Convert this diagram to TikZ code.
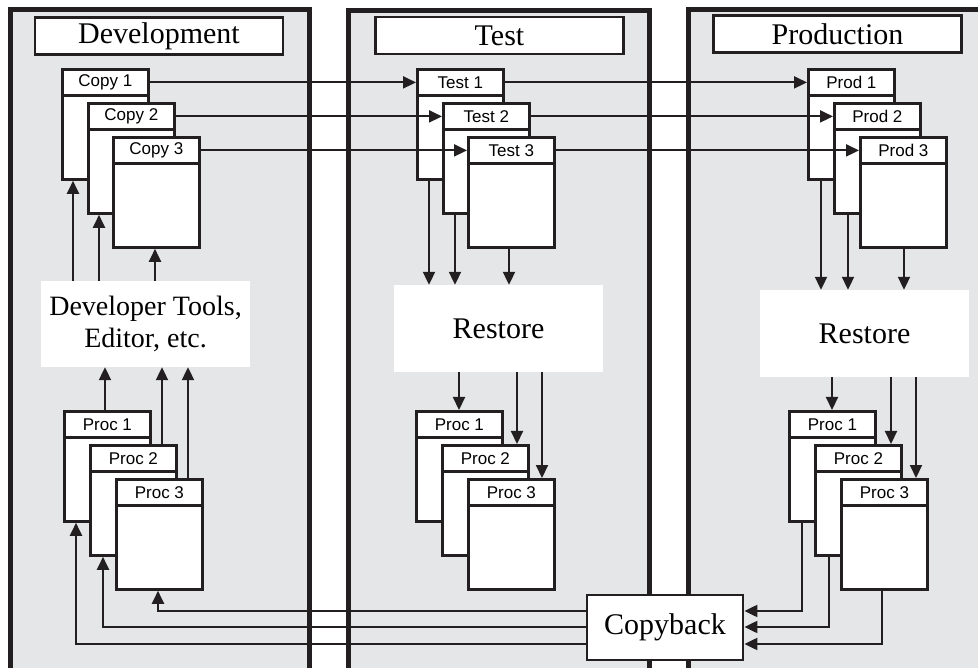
\documentclass[tikz,border=0pt]{standalone}
\usepackage{fontspec}
\setmainfont{Liberation Serif}
\newfontfamily\hvfont{Liberation Sans}
\usetikzlibrary{arrows.meta}
\definecolor{panelgray}{HTML}{E5E6E8}
\definecolor{ink}{HTML}{231F20}
\tikzset{
  panelline/.style={line width=5pt, draw=ink},
  titlebox/.style={draw=ink, line width=2.8pt, fill=white, minimum width=248pt, minimum height=37pt, inner sep=0pt, font=\fontsize{30}{32}\selectfont},
  bodybox/.style={draw=ink, line width=2.8pt, fill=white, minimum width=86pt, minimum height=110pt, inner sep=0pt, anchor=north west},
  headbox/.style={draw=ink, line width=2.8pt, fill=white, minimum width=86pt, minimum height=26pt, inner sep=0pt, anchor=north, font=\hvfont\fontsize{17}{19}\selectfont},
  plainbox/.style={fill=white, inner sep=0pt, align=center, font=\fontsize{30}{32}\selectfont},
  cbbox/.style={draw=ink, line width=2.8pt, fill=white, inner sep=0pt, font=\fontsize{30}{32}\selectfont},
  arr/.style={draw=ink, line width=2.1pt, -{Triangle[length=13pt,width=12pt]}},
}
\newcommand\mkstack[4]{\node[bodybox] (#1) at (#2,#3) {};\node[headbox] (#1h) at (#1.north) {#4};}
\begin{document}
\begin{tikzpicture}[x=1pt,y=-1pt]
\path[use as bounding box] (0,0) rectangle (978,668);
\clip (0,0) rectangle (978,668);
% panels
\fill[panelgray] (10.5,10) rectangle (309.5,675);
\draw[panelline] (10.5,680) -- (10.5,10) -- (309.5,10) -- (309.5,680);
\fill[panelgray] (348.5,11) rectangle (649.5,675);
\draw[panelline] (348.5,680) -- (348.5,11) -- (649.5,11) -- (649.5,680);
\fill[panelgray] (688.5,10) rectangle (990,675);
\draw[panelline] (688.5,680) -- (688.5,10) -- (995,10);
% titles
\node[titlebox] (tdev) at (159,36) {Development};
\node[titlebox] (ttest) at (499.5,35.5) {Test};
\node[titlebox] (tprod) at (837.5,34) {Production};
% copy stacks
\mkstack{c1}{61}{68}{Copy 1}
\mkstack{c2}{87}{102}{Copy 2}
\mkstack{c3}{112}{136}{Copy 3}
\mkstack{t1}{416}{68}{Test 1}
\mkstack{t2}{442}{102}{Test 2}
\mkstack{t3}{467}{136}{Test 3}
\mkstack{p1}{807}{68}{Prod 1}
\mkstack{p2}{833}{102}{Prod 2}
\mkstack{p3}{859}{136}{Prod 3}
% proc stacks
\mkstack{dp1}{63}{410}{Proc 1}
\mkstack{dp2}{89}{444}{Proc 2}
\mkstack{dp3}{115}{478}{Proc 3}
\mkstack{tp1}{415}{410}{Proc 1}
\mkstack{tp2}{441}{444}{Proc 2}
\mkstack{tp3}{467}{478}{Proc 3}
\mkstack{pp1}{788}{410}{Proc 1}
\mkstack{pp2}{814}{444}{Proc 2}
\mkstack{pp3}{840}{478}{Proc 3}
% white boxes
\node[plainbox, minimum width=209pt, minimum height=86pt, font=\fontsize{28}{32}\selectfont] (dt) at (145.5,324) {Developer Tools,\\Editor, etc.};
\node[plainbox, minimum width=209pt, minimum height=87pt] (tr) at (498.5,328.5) {Restore};
\node[plainbox, minimum width=209pt, minimum height=87pt] (pr) at (864.5,333.5) {Restore};
\node[cbbox, minimum width=156pt, minimum height=65pt] (cb) at (665,627.5) {Copyback};
% lanes
\coordinate (d1) at (73,0); \coordinate (d2) at (99,0); \coordinate (d3) at (155,0);
\coordinate (e1) at (105,0); \coordinate (e2) at (162,0); \coordinate (e3) at (188,0);
\coordinate (f1) at (429,0); \coordinate (f2) at (455,0); \coordinate (f3) at (509,0);
\coordinate (g1) at (459,0); \coordinate (g2) at (517,0); \coordinate (g3) at (542,0);
\coordinate (h1) at (821,0); \coordinate (h2) at (848,0); \coordinate (h3) at (904,0);
\coordinate (k1) at (832,0); \coordinate (k2) at (891,0); \coordinate (k3) at (916,0);
\coordinate (m1) at (802,0); \coordinate (m2) at (829,0); \coordinate (m3) at (882,0);
\coordinate (n1) at (76,0); \coordinate (n2) at (103,0); \coordinate (n3) at (158,0);
\coordinate (r1) at (0,611); \coordinate (r2) at (0,627); \coordinate (r3) at (0,644);
% horizontal transfers
\draw[arr] (c1h.east) -- (t1h.west);
\draw[arr] (c2h.east) -- (t2h.west);
\draw[arr] (c3h.east) -- (t3h.west);
\draw[arr] (t1h.east) -- (p1h.west);
\draw[arr] (t2h.east) -- (p2h.west);
\draw[arr] (t3h.east) -- (p3h.west);
% development
\draw[arr] (dt.north -| d1) -- (c1.south -| d1);
\draw[arr] (dt.north -| d2) -- (c2.south -| d2);
\draw[arr] (dt.north -| d3) -- (c3.south -| d3);
\draw[arr] (dp1.north -| e1) -- (dt.south -| e1);
\draw[arr] (dp2.north -| e2) -- (dt.south -| e2);
\draw[arr] (dp3.north -| e3) -- (dt.south -| e3);
% test
\draw[arr] (t1.south -| f1) -- (tr.north -| f1);
\draw[arr] (t2.south -| f2) -- (tr.north -| f2);
\draw[arr] (t3.south -| f3) -- (tr.north -| f3);
\draw[arr] (tr.south -| g1) -- (tp1.north -| g1);
\draw[arr] (tr.south -| g2) -- (tp2.north -| g2);
\draw[arr] (tr.south -| g3) -- (tp3.north -| g3);
% production
\draw[arr] (p1.south -| h1) -- (pr.north -| h1);
\draw[arr] (p2.south -| h2) -- (pr.north -| h2);
\draw[arr] (p3.south -| h3) -- (pr.north -| h3);
\draw[arr] (pr.south -| k1) -- (pp1.north -| k1);
\draw[arr] (pr.south -| k2) -- (pp2.north -| k2);
\draw[arr] (pr.south -| k3) -- (pp3.north -| k3);
% copyback
\draw[arr] (pp1.south -| m1) |- (cb.east |- r1);
\draw[arr] (pp2.south -| m2) |- (cb.east |- r2);
\draw[arr] (pp3.south -| m3) |- (cb.east |- r3);
\draw[arr] (cb.west |- r1) -| (dp3.south -| n3);
\draw[arr] (cb.west |- r2) -| (dp2.south -| n2);
\draw[arr] (cb.west |- r3) -| (dp1.south -| n1);
\end{tikzpicture}
\end{document}
